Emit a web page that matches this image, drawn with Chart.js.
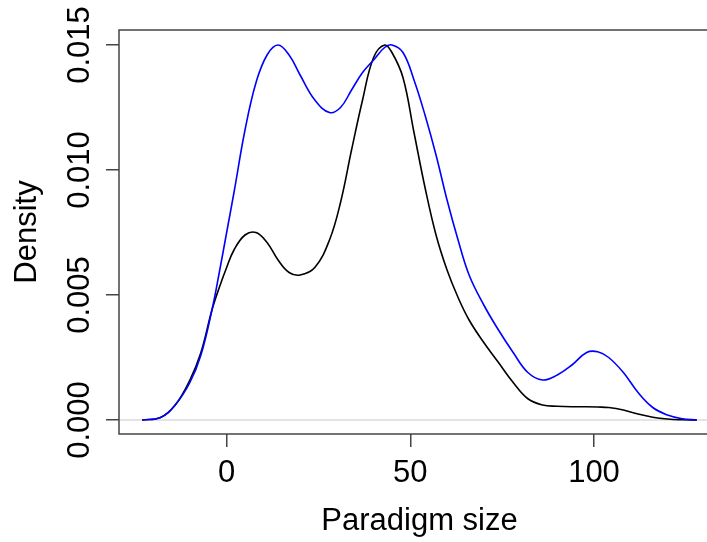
<!DOCTYPE html>
<html>
<head>
<meta charset="utf-8">
<script src="https://cdn.jsdelivr.net/npm/chart.js@4"></script>
<style>
  html, body { margin: 0; padding: 0; background: #fff; overflow: hidden; }
</style>
</head>
<body>
<canvas id="grafico" width="740" height="542"></canvas>
<script>
// paradigm size (x) and the two density estimates
const tamanos = [-23, -18, -14, -10, -7, -4, -2, 0, 2, 5, 8, 11, 14, 17, 20, 24, 28, 31, 34, 37, 40, 43, 45, 48, 51, 54, 57, 60, 63, 66, 70, 74, 78, 82, 86, 90, 94, 98, 101, 104, 108, 112, 116, 120, 124, 128]
const densidadAzul = [0, 0.0001, 0.0006, 0.0015, 0.0026, 0.0044, 0.0059, 0.0075, 0.0091, 0.0116, 0.0135, 0.0146, 0.0150, 0.0146, 0.0138, 0.0128, 0.0123, 0.0125, 0.0132, 0.0139, 0.0144, 0.0149, 0.0150, 0.0147, 0.0136, 0.0122, 0.0106, 0.0088, 0.0072, 0.0058, 0.0046, 0.0036, 0.0027, 0.0019, 0.0016, 0.0018, 0.0022, 0.0027, 0.00273, 0.0025, 0.0019, 0.0011, 0.0005, 0.0002, 0.00005, 0]
const densidadNegra = [0, 0.0001, 0.0006, 0.0016, 0.0027, 0.0044, 0.0053, 0.0061, 0.0068, 0.0074, 0.0075, 0.0071, 0.0064, 0.0059, 0.0058, 0.0061, 0.0072, 0.0087, 0.0108, 0.0128, 0.0145, 0.0150, 0.0147, 0.0137, 0.0115, 0.0093, 0.0074, 0.0060, 0.0049, 0.0040, 0.0031, 0.0023, 0.0015, 0.00085, 0.0006, 0.00055, 0.00053, 0.00053, 0.00052, 0.0005, 0.0004, 0.00024, 0.00011, 0.00004, 0.00001, 0]
const ticksX = [0, 50, 100]
const ticksY = [0, 0.005, 0.010, 0.015]

const fuente = "'Liberation Sans', Arial, sans-serif"

// box around the plot, the grey zero line and the rotated y labels (R style)
const marco = {
  id: "marco",
  beforeDatasetsDraw(chart) {
    const { ctx, chartArea: a, scales: { y } } = chart
    const y0 = y.getPixelForValue(0)
    ctx.save()
    ctx.strokeStyle = "#e4e4e4"
    ctx.lineWidth = 2
    ctx.beginPath()
    ctx.moveTo(a.left, y0)
    ctx.lineTo(a.right, y0)
    ctx.stroke()
    ctx.restore()
  },
  afterDraw(chart) {
    const { ctx, chartArea: a, scales: { y } } = chart
    ctx.save()
    ctx.strokeStyle = "#444"
    ctx.lineWidth = 1.5
    ctx.strokeRect(a.left, a.top, a.right - a.left, a.bottom - a.top)
    ctx.fillStyle = "#000"
    ctx.font = "31px " + fuente
    ctx.textAlign = "center"
    ctx.textBaseline = "alphabetic"
    y.ticks.forEach((t) => {
      ctx.save()
      ctx.translate(89, y.getPixelForValue(t.value))
      ctx.rotate(-Math.PI / 2)
      ctx.fillText(t.value.toFixed(3), 0, 0)
      ctx.restore()
    })
    ctx.restore()
  },
}

const lienzo = document.getElementById("grafico")

new Chart(lienzo, {
  type: "line",
  data: {
    datasets: [
      {
        label: "azul",
        data: tamanos.map((x, i) => ({ x: x, y: densidadAzul[i] })),
        borderColor: "#0000ff",
        borderWidth: 1.6,
        pointRadius: 0,
        tension: 0.4,
        fill: false,
      },
      {
        label: "negra",
        data: tamanos.map((x, i) => ({ x: x, y: densidadNegra[i] })),
        borderColor: "#000000",
        borderWidth: 1.6,
        pointRadius: 0,
        tension: 0.4,
        fill: false,
      },
    ],
  },
  options: {
    responsive: false,
    animation: false,
    devicePixelRatio: 1,
    layout: { padding: { left: 9, top: 30, right: 20, bottom: 2 } },
    plugins: { legend: { display: false }, tooltip: { enabled: false } },
    scales: {
      x: {
        type: "linear",
        min: -29.3,
        max: 134.3,
        afterBuildTicks: (s) => { s.ticks = ticksX.map((v) => ({ value: v })) },
        afterFit: (s) => { s.height = 106 },
        grid: { drawOnChartArea: false, drawTicks: true, tickLength: 13, color: "#444", lineWidth: 1.5 },
        border: { display: false },
        ticks: { color: "#000", font: { family: fuente, size: 31 }, padding: 8, maxRotation: 0 },
        title: { display: true, text: "Paradigm size", color: "#000", font: { family: fuente, size: 31 }, padding: 0 },
      },
      y: {
        type: "linear",
        min: -0.00056,
        max: 0.0156,
        afterBuildTicks: (s) => { s.ticks = ticksY.map((v) => ({ value: v })) },
        afterFit: (s) => { s.width = 110 },
        grid: { drawOnChartArea: false, drawTicks: true, tickLength: 13, color: "#444", lineWidth: 1.5 },
        border: { display: false },
        ticks: { display: false },
        title: { display: true, text: "Density", color: "#000", font: { family: fuente, size: 31 }, padding: 0 },
      },
    },
  },
  plugins: [marco],
})
</script>
</body>
</html>
